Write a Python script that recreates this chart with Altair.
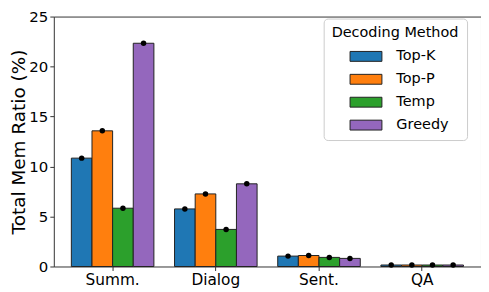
import altair as alt
import pandas as pd

tasks = ["Summ.", "Dialog", "Sent.", "QA"]
methods = ["Top-K", "Top-P", "Temp", "Greedy"]
colors = ["#1f77b4", "#ff7f0e", "#2ca02c", "#9467bd"]
top_k = [10.84, 5.76, 1.04, 0.15]
top_p = [13.57, 7.26, 1.10, 0.15]
temp = [5.83, 3.71, 0.91, 0.15]
greedy = [22.33, 8.27, 0.81, 0.15]

series = [top_k, top_p, temp, greedy]
rows = []
for m, vals in zip(methods, series):
    for t, v in zip(tasks, vals):
        rows.append({"task": t, "method": m, "value": v})
df = pd.DataFrame(rows)

x = alt.X("task:N", sort=tasks, title=None,
          scale=alt.Scale(paddingInner=0.2, paddingOuter=0.17),
          axis=alt.Axis(labelAngle=0, labelFontSize=15.4, labelColor="black",
                        tickSize=4, tickColor="#333", domain=False, labelPadding=2))
xo = alt.XOffset("method:N", sort=methods, scale=alt.Scale(paddingInner=0, paddingOuter=0))
y = alt.Y("value:Q", title="Total Mem Ratio (%)",
          scale=alt.Scale(domain=[0, 25], nice=False),
          axis=alt.Axis(values=[0, 5, 10, 15, 20, 25], grid=False, labelFontSize=15,
                        labelColor="black", titleFontSize=18.5, titleFontWeight="normal",
                        titleColor="black", tickSize=4, tickColor="#333", domain=False,
                        titlePadding=0, labelPadding=2))

color = alt.Color("method:N", sort=methods,
                  scale=alt.Scale(domain=methods, range=colors),
                  legend=alt.Legend(title="Decoding Method", orient="none",
                                    legendX=271, legendY=2,
                                    titleFontSize=14.5, titleFontWeight="normal",
                                    titleColor="black", labelFontSize=14.5, labelColor="black",
                                    symbolType="M-2,-0.62H2V0.62H-2Z", symbolSize=256,
                                    symbolStrokeColor="#222", symbolStrokeWidth=1,
                                    symbolOpacity=1, symbolOffset=26, labelOffset=22,
                                    padding=8, strokeColor="#cccccc", cornerRadius=4,
                                    fillColor="white", rowPadding=7, titlePadding=7))

bars = alt.Chart(df).mark_bar(stroke="#222", strokeWidth=1, opacity=1).encode(
    x=x, xOffset=xo, y=y, color=color)
dots = alt.Chart(df).mark_point(filled=True, color="black", size=30, opacity=1).encode(
    x=alt.X("task:N", sort=tasks), xOffset=alt.XOffset("method:N", sort=methods),
    y="value:Q")

chart = alt.layer(bars, dots).properties(
    width=429, height=251,
    autosize=alt.AutoSizeParams(type="none"),
    padding={"left": 46, "top": 8, "right": 0, "bottom": 22},
).configure(font="DejaVu Sans").configure_view(stroke="#333", strokeWidth=1)

chart.save("out.html", embed_options={"renderer": "svg", "actions": False})
